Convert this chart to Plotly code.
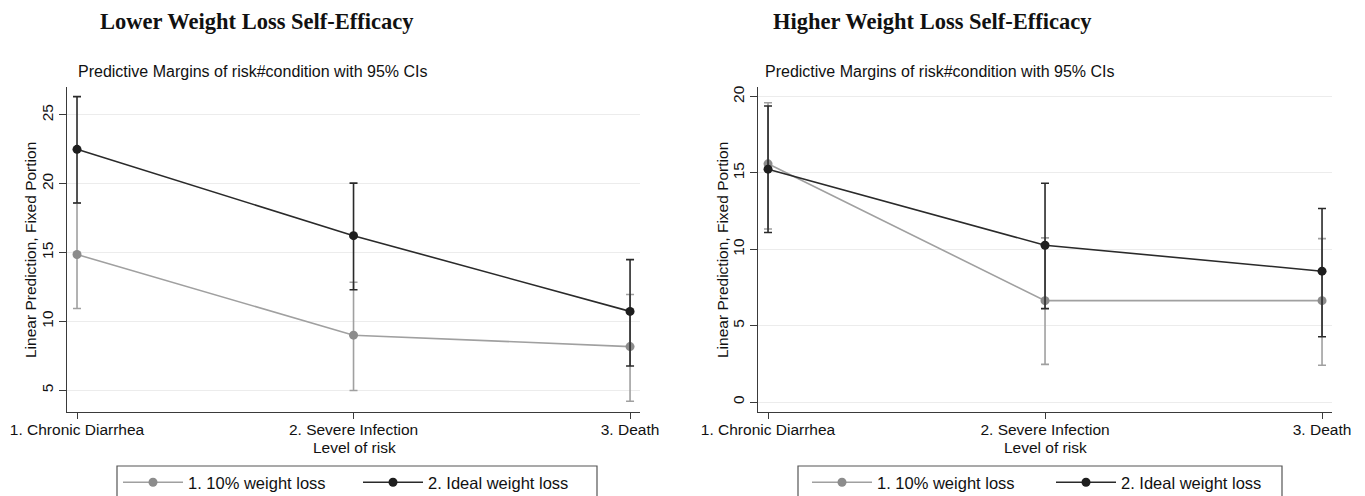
import plotly.graph_objects as go

# ---------------- data ----------------
categories = ["1. Chronic Diarrhea", "2. Severe Infection", "3. Death"]
x_pos = [1, 2, 3]
series_names = ["1. 10% weight loss", "2. Ideal weight loss"]
panel_titles = ["Lower Weight Loss Self-Efficacy", "Higher Weight Loss Self-Efficacy"]
subtitle = "Predictive Margins of risk#condition with 95% CIs"
y_title = "Linear Prediction, Fixed Portion"
x_title = "Level of risk"

# Lower self-efficacy panel
low_10 = [14.86, 9.0, 8.17]
low_10_hi = [18.6, 12.85, 11.96]
low_10_lo = [10.94, 4.98, 4.2]
low_ideal = [22.5, 16.23, 10.73]
low_ideal_hi = [26.33, 20.05, 14.49]
low_ideal_lo = [18.6, 12.3, 6.76]

# Higher self-efficacy panel
high_10 = [15.6, 6.64, 6.64]
high_10_hi = [19.6, 10.75, 10.7]
high_10_lo = [11.33, 2.47, 2.41]
high_ideal = [15.25, 10.27, 8.57]
high_ideal_hi = [19.39, 14.33, 12.67]
high_ideal_lo = [11.1, 6.12, 4.28]

left_yticks = [5, 10, 15, 20, 25]
right_yticks = [0, 5, 10, 15, 20]

# ---------------- style ----------------
W, H = 1365, 496
GRAY_M = "#8c8c8c"
GRAY_L = "#a0a0a0"
BLACK = "#1e1e1e"
AXIS = "#3a3a3a"
GRID = "#ececec"
SANS = "Liberation Sans, Arial, sans-serif"
SERIF = "Liberation Serif, Times New Roman, serif"

def px(x):
    return x / W

def py(y):
    return 1 - y / H

fig = go.Figure()

def add_series(mean, hi, lo, name, mcol, lcol, xa, ya, legend):
    plus = [h - m for h, m in zip(hi, mean)]
    minus = [m - l for m, l in zip(mean, lo)]
    fig.add_trace(go.Scatter(
        x=x_pos, y=mean, name=name, mode="lines+markers",
        line=dict(color=lcol, width=1.6),
        marker=dict(color=mcol, size=9),
        error_y=dict(type="data", array=plus, arrayminus=minus,
                     color=lcol, thickness=1.6, width=4),
        xaxis=xa, yaxis=ya, legend=legend, hoverinfo="x+y",
    ))

add_series(low_10, low_10_hi, low_10_lo, series_names[0], GRAY_M, GRAY_L, "x", "y", "legend")
add_series(low_ideal, low_ideal_hi, low_ideal_lo, series_names[1], BLACK, "#2a2a2a", "x", "y", "legend")
add_series(high_10, high_10_hi, high_10_lo, series_names[0], GRAY_M, GRAY_L, "x2", "y2", "legend2")
add_series(high_ideal, high_ideal_hi, high_ideal_lo, series_names[1], BLACK, "#2a2a2a", "x2", "y2", "legend2")

ydom = [py(412), py(87)]
xcommon = dict(
    tickmode="array", tickvals=x_pos, ticktext=categories,
    range=[0.9638, 3.036], showgrid=False, zeroline=False,
    showline=True, linecolor=AXIS, linewidth=1.3,
    ticks="outside", ticklen=6, tickcolor=AXIS, tickwidth=1.3,
    tickfont=dict(family=SANS, size=15.5, color="#111"),
    ticklabelstandoff=-3,
    automargin=False, fixedrange=True,
)
ycommon = dict(
    showgrid=True, gridcolor=GRID, gridwidth=1, zeroline=False,
    showline=True, linecolor=AXIS, linewidth=1.3,
    ticks="outside", ticklen=7, tickcolor=AXIS, tickwidth=1.3,
    tickangle=-90, tickfont=dict(family=SANS, size=15.5, color="#111"),
    automargin=False, fixedrange=True, domain=ydom,
)

legend_common = dict(
    orientation="h", xanchor="left", yanchor="top",
    itemwidth=60, entrywidthmode="pixels",
    font=dict(family=SANS, size=16.5, color="#111"),
    bgcolor="rgba(0,0,0,0)", borderwidth=0, itemclick=False,
)

fig.update_layout(
    width=W, height=H,
    margin=dict(l=0, r=0, t=0, b=0, autoexpand=False),
    paper_bgcolor="white", plot_bgcolor="white",
    xaxis=dict(domain=[px(67), px(640)], anchor="y", **xcommon),
    xaxis2=dict(domain=[px(758), px(1332)], anchor="y2", **xcommon),
    yaxis=dict(range=[3.42, 27.03], tickvals=left_yticks, anchor="x", **ycommon),
    yaxis2=dict(range=[-0.65, 20.63], tickvals=right_yticks, anchor="x2", **ycommon),
    legend=dict(x=px(118), y=py(465), entrywidth=165, **legend_common),
    legend2=dict(x=px(807), y=py(465), entrywidth=169, **legend_common),
    showlegend=True,
)

# legend frames
for x0, x1 in [(117, 597), (798, 1282)]:
    fig.add_shape(type="rect", xref="paper", yref="paper",
                  x0=px(x0), x1=px(x1), y0=py(520), y1=py(466),
                  line=dict(color="#555", width=1.2), fillcolor="rgba(0,0,0,0)", layer="above")

annots = []
for i, (tcx, scx, ytx, xtx) in enumerate([(257, 252, 30, 354), (932, 939, 722, 1045)]):
    annots.append(dict(text="<b>" + panel_titles[i] + "</b>", x=px(tcx), y=py(21),
                       xref="paper", yref="paper", showarrow=False,
                       xanchor="center", yanchor="middle",
                       font=dict(family=SERIF, size=22.5, color="#111")))
    annots.append(dict(text=subtitle, x=px(scx), y=py(72),
                       xref="paper", yref="paper", showarrow=False,
                       xanchor="center", yanchor="middle",
                       font=dict(family=SANS, size=16, color="#111")))
    annots.append(dict(text=y_title, x=px(ytx), y=py(250), textangle=-90,
                       xref="paper", yref="paper", showarrow=False,
                       xanchor="center", yanchor="middle",
                       font=dict(family=SANS, size=15.5, color="#111")))
    annots.append(dict(text=x_title, x=px(xtx), y=py(447),
                       xref="paper", yref="paper", showarrow=False,
                       xanchor="center", yanchor="middle",
                       font=dict(family=SANS, size=15.5, color="#111")))
fig.update_layout(annotations=annots)

fig.write_html(
    "out.html",
    config={"displayModeBar": False},
    post_script="document.body.style.margin='0';document.body.style.padding='0';",
)
